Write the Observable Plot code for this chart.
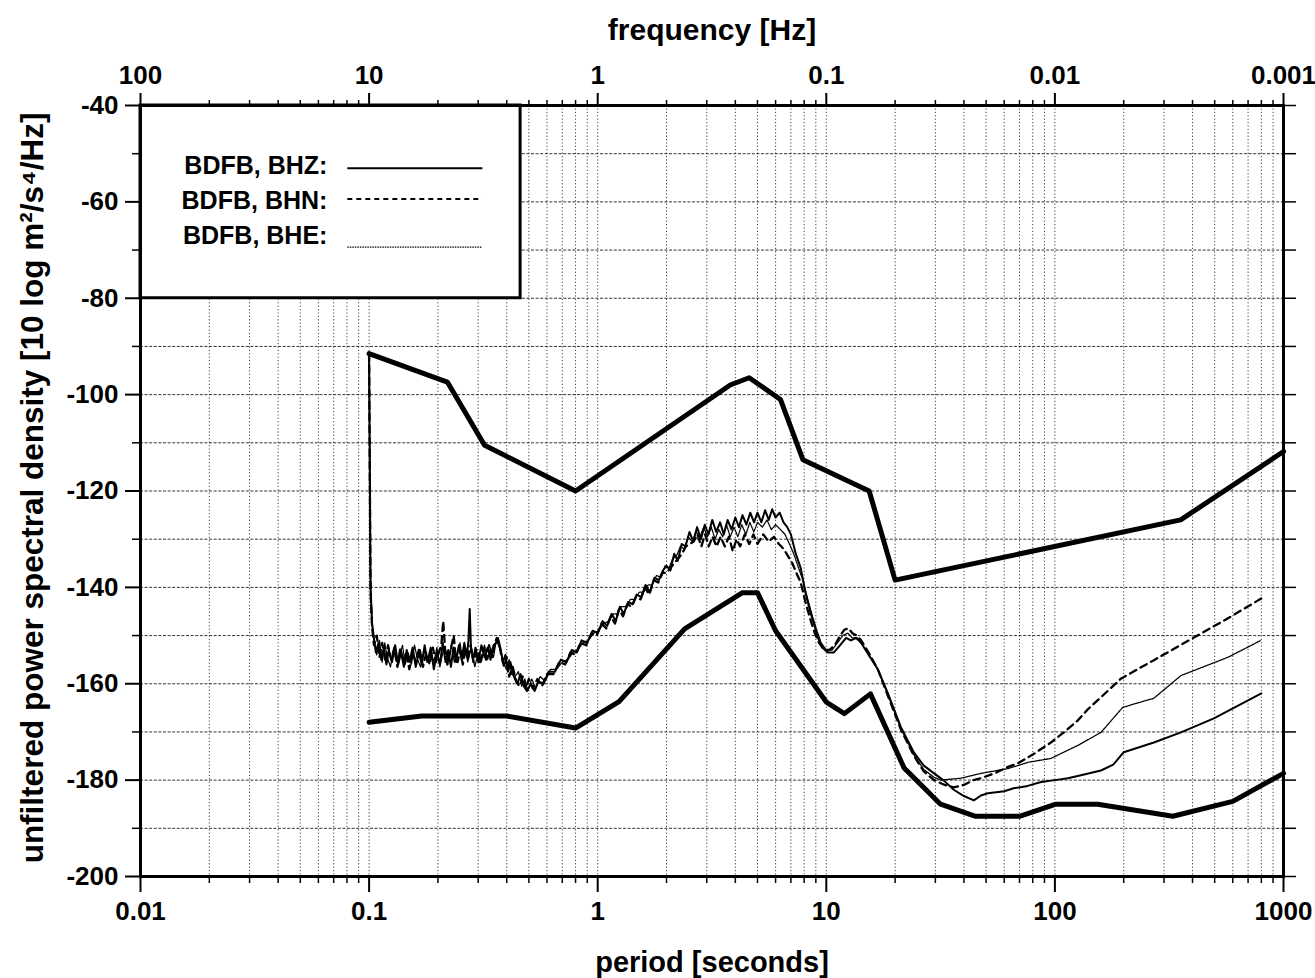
<!DOCTYPE html>
<html>
<head>
<meta charset="utf-8">
<script src="https://cdn.jsdelivr.net/npm/d3@7"></script>
<script src="https://cdn.jsdelivr.net/npm/@observablehq/plot@0.6"></script>
<style>
  html, body { margin: 0; padding: 0; background: #fff; }
  #chart svg { display: block; }
</style>
</head>
<body>
<div id="chart"></div>
<script>
// ---- axis ticks and labels ----
const periodTicks = [0.01, 0.1, 1, 10, 100, 1000];
const periodTickLabels = ["0.01", "0.1", "1", "10", "100", "1000"];
const frequencyTickLabels = ["100", "10", "1", "0.1", "0.01", "0.001"];
const psdTicks = [-200, -180, -160, -140, -120, -100, -80, -60, -40];
const psdTickLabels = ["-200", "-180", "-160", "-140", "-120", "-100", "-80", "-60", "-40"];
const psdMinorTicks = [-190, -170, -150, -130, -110, -90, -70, -50];

// ---- Peterson high / low noise models ----
const nhnmPeriod = [0.1, 0.22, 0.32, 0.8, 3.8, 4.6, 6.3, 7.9, 15.4, 20, 354.8, 1000];
const nhnmPsd = [-91.5, -97.4, -110.5, -120.0, -98.0, -96.5, -101.0, -113.5, -120.0, -138.5, -126.0, -111.8];

const nlnmPeriod = [0.1, 0.17, 0.4, 0.8, 1.24, 2.4, 4.3, 5.0, 6.0, 10.0, 12.0, 15.6, 21.9, 31.6, 45, 70, 101, 154, 328, 600, 1000];
const nlnmPsd = [-168.0, -166.7, -166.7, -169.2, -163.7, -148.6, -141.1, -141.1, -149.0, -163.8, -166.2, -162.1, -177.5, -185.0, -187.5, -187.5, -185.0, -185.0, -187.5, -184.4, -178.6];

// ---- BDFB, BHZ ----
const bhzPeriod = [0.1, 0.101, 0.1015, 0.103, 0.105, 0.107, 0.11, 0.113, 0.116, 0.119, 0.122, 0.126, 0.13, 0.134, 0.138, 0.142, 0.146, 0.15, 0.155, 0.16, 0.165, 0.17, 0.175, 0.18, 0.186, 0.192, 0.198, 0.204, 0.21, 0.216, 0.222, 0.228, 0.234, 0.24, 0.247, 0.254, 0.261, 0.268, 0.272, 0.2755, 0.279, 0.285, 0.292, 0.3, 0.31, 0.32, 0.33, 0.34, 0.35, 0.36, 0.366, 0.375, 0.385, 0.395, 0.405, 0.415, 0.43, 0.445, 0.46, 0.475, 0.49, 0.51, 0.53, 0.55, 0.58, 0.61, 0.65, 0.69, 0.73, 0.77, 0.81, 0.85, 0.9, 0.95, 1.0, 1.05, 1.1, 1.15, 1.2, 1.25, 1.3, 1.36, 1.42, 1.48, 1.55, 1.62, 1.69, 1.77, 1.85, 1.93, 2.0, 2.08, 2.16, 2.24, 2.33, 2.42, 2.52, 2.62, 2.72, 2.83, 2.94, 3.05, 3.17, 3.3, 3.43, 3.56, 3.7, 3.85, 4.0, 4.15, 4.3, 4.47, 4.65, 4.83, 5.0, 5.2, 5.4, 5.6, 5.8, 6.0, 6.25, 6.5, 6.75, 7.0, 7.35, 7.73, 8.1, 8.5, 8.82, 9.2, 9.6, 10.15, 10.8, 11.5, 12.2, 12.8, 13.5, 14.2, 15.3, 16.8, 18.6, 21.2, 24.2, 26.7, 29.6, 32.5, 36.1, 40, 44.2, 47.5, 51, 60, 66, 76, 87, 100, 114, 130, 159, 180, 200, 271, 356, 496, 800];
const bhzPsd = [-91.5, -125, -140, -147.5, -150.5, -153.5, -151.5, -155, -152.5, -156, -153, -155.5, -152, -156, -153.5, -156.5, -153, -155.5, -152.5, -156.5, -153.5, -156, -152, -155.5, -152.5, -157, -153.5, -156, -151.5, -155.5, -153, -156.5, -152.5, -155.5, -152, -155, -151.5, -154.5, -151, -144.5, -152.5, -155, -152.5, -155.5, -152, -154.5, -152.5, -155, -152, -151.5, -150.5, -152.5, -155.5, -154, -157.5, -155.5, -158.5, -160, -158, -160.5, -161.5, -160, -161.5, -159.5, -160, -157.5, -157.5, -155, -155.5, -153, -153.5, -151, -151.5, -149, -149.5, -147, -148, -145.5, -147, -144, -145.5, -143, -143.5, -141.5, -142, -139.5, -141, -138, -138.5, -136.5, -135.5, -136.5, -133, -134.5, -131, -131.5, -128.5, -130.5, -127.5, -130, -127, -129, -126, -128.5, -126.5, -129, -126, -128, -125.5, -127.5, -125, -127, -124.5, -126.5, -124.5, -126.5, -124, -126, -123.8, -125.5, -124.5, -126.5, -127.5, -129, -133, -136, -141, -145, -147.5, -150.5, -152.5, -153.5, -153.5, -152, -150.5, -151, -150.5, -151.5, -154, -157, -162, -169, -174.3, -177, -178.6, -180, -182, -183.3, -184.2, -183.2, -182.7, -182.3, -181.7, -181.2, -180.4, -180, -179.6, -179, -178, -176.8, -174.2, -172.2, -170.1, -167.2, -162];

// ---- BDFB, BHN ----
const bhnPeriod = [0.1, 0.101, 0.1015, 0.103, 0.105, 0.108, 0.111, 0.114, 0.118, 0.121, 0.125, 0.129, 0.133, 0.137, 0.141, 0.145, 0.15, 0.155, 0.16, 0.166, 0.172, 0.178, 0.184, 0.19, 0.196, 0.202, 0.207, 0.211, 0.215, 0.22, 0.226, 0.232, 0.2345, 0.238, 0.244, 0.25, 0.257, 0.264, 0.27, 0.278, 0.286, 0.295, 0.305, 0.315, 0.325, 0.335, 0.345, 0.355, 0.362, 0.37, 0.38, 0.39, 0.4, 0.41, 0.425, 0.44, 0.455, 0.47, 0.485, 0.5, 0.52, 0.545, 0.57, 0.6, 0.64, 0.68, 0.72, 0.76, 0.8, 0.84, 0.89, 0.94, 0.99, 1.04, 1.09, 1.14, 1.19, 1.24, 1.29, 1.35, 1.41, 1.47, 1.54, 1.61, 1.68, 1.76, 1.84, 1.92, 2.0, 2.08, 2.16, 2.25, 2.34, 2.43, 2.53, 2.63, 2.73, 2.84, 2.95, 3.06, 3.18, 3.31, 3.45, 3.6, 3.75, 3.9, 4.05, 4.2, 4.4, 4.6, 4.8, 5.0, 5.3, 5.6, 5.9, 6.2, 6.5, 6.8, 7.1, 7.4, 7.73, 8.1, 8.5, 8.9, 9.3, 9.8, 10.3, 10.9, 11.5, 12.0, 12.5, 13.0, 13.6, 14.2, 15.3, 16.8, 18.6, 21.2, 24.2, 26.7, 29.6, 33, 36.1, 40, 44, 47.5, 55, 62, 69, 80, 96, 110, 126, 140, 159, 195, 271, 406, 572, 820];
const bhnPsd = [-91.5, -126, -141, -148, -152, -150, -154.5, -151.5, -155.5, -152, -155, -152.5, -156.5, -152.5, -155.5, -153.5, -157, -153.5, -155.5, -152.5, -156.5, -153.5, -156, -152.5, -155.5, -153.5, -152, -147, -153, -156, -153.5, -151, -150, -153.5, -155.5, -153, -156, -152.5, -155, -152, -155.5, -153, -156, -152.5, -155, -152, -154.5, -151.5, -150.5, -151.5, -154.5, -156.5, -154.5, -158.5, -156.5, -159.5, -160.5, -158.5, -161, -159, -161, -159, -160.5, -158, -158, -155.5, -156, -153.5, -154, -151.5, -152, -149.5, -150, -147.5, -148.5, -146, -147.5, -144.5, -146, -143.5, -144, -142, -142.5, -140, -141.5, -138.5, -139, -137, -137, -136, -135, -134, -133, -131.5, -131, -130.5, -129, -131.5, -129, -131.5, -129.5, -131.5, -129.5, -131.5, -129.5, -132.5, -130, -131.5, -129, -131, -129, -131, -129, -130.5, -129.5, -131, -132, -133.5, -135, -137, -139, -143, -146.5, -149.5, -151.5, -153, -153, -152, -150, -148.8, -148.5, -149.5, -150, -151, -153.5, -157, -162.5, -169.5, -175, -178.2, -180, -181, -181.5, -181, -180, -179.6, -178.5, -177.3, -176.5, -174.7, -172.2, -170, -167.6, -165.2, -162.8, -158.9, -155.1, -150.4, -146.4, -142];

// ---- BDFB, BHE ----
const bhePeriod = [0.1, 0.101, 0.1015, 0.103, 0.105, 0.108, 0.111, 0.114, 0.117, 0.12, 0.124, 0.128, 0.132, 0.136, 0.14, 0.144, 0.148, 0.153, 0.158, 0.163, 0.168, 0.174, 0.18, 0.186, 0.192, 0.198, 0.204, 0.21, 0.216, 0.222, 0.229, 0.236, 0.243, 0.25, 0.256, 0.263, 0.27, 0.28, 0.29, 0.3, 0.31, 0.32, 0.33, 0.34, 0.35, 0.36, 0.368, 0.378, 0.388, 0.398, 0.41, 0.42, 0.435, 0.45, 0.465, 0.48, 0.495, 0.515, 0.535, 0.56, 0.59, 0.62, 0.66, 0.7, 0.74, 0.78, 0.82, 0.86, 0.91, 0.96, 1.01, 1.06, 1.12, 1.17, 1.22, 1.27, 1.33, 1.39, 1.45, 1.52, 1.59, 1.66, 1.73, 1.81, 1.89, 1.97, 2.05, 2.13, 2.21, 2.3, 2.39, 2.49, 2.59, 2.69, 2.8, 2.91, 3.02, 3.14, 3.26, 3.39, 3.52, 3.66, 3.8, 3.95, 4.1, 4.27, 4.45, 4.63, 4.82, 5.0, 5.25, 5.5, 5.75, 6.0, 6.3, 6.6, 6.9, 7.2, 7.5, 7.9, 8.3, 8.7, 9.1, 9.5, 10, 10.6, 11.2, 11.8, 12.4, 13.0, 13.7, 14.4, 15.3, 16.8, 18.6, 21.2, 24.2, 26.7, 29.6, 31.7, 38.8, 47.5, 62.3, 76.2, 96, 126, 159, 198, 271, 356, 572, 797];
const bhePsd = [-91.5, -125.5, -140.5, -147, -151, -154, -151, -155.5, -151.5, -154.5, -156.5, -153, -155.5, -154, -152, -156, -153.5, -156, -152, -155, -156.5, -153, -155.5, -153.5, -155.5, -152.5, -156.5, -153.5, -153, -155.5, -152, -155.5, -153.5, -151.5, -155, -152.5, -155.5, -152.5, -156.5, -153.5, -155.5, -152, -155, -152.5, -154.5, -151, -152, -153.5, -155.5, -157, -155, -158, -158.5, -157.5, -160.5, -159, -161.5, -159, -161, -158.5, -159.5, -157, -157, -155.5, -155, -153.5, -153, -151.5, -151, -149.5, -149, -147.5, -147, -145.5, -145.5, -144, -144, -142.5, -142.5, -141, -141, -139.5, -139.5, -137.5, -138, -135.5, -136, -134, -133.5, -131.5, -132, -129.5, -130.5, -128.5, -129.5, -127.5, -129.5, -127.5, -130, -128, -129.5, -127, -129.5, -127.5, -129.5, -127, -129, -126.5, -128.5, -126.5, -127.5, -126, -128, -127, -128, -129, -131, -133, -135.5, -138.5, -142.5, -146, -149, -151.5, -153, -153, -151.5, -150, -149.5, -150.5, -150.5, -152, -153.8, -157, -162.3, -169.3, -174.8, -177.8, -179.4, -180, -179.6, -178.6, -177.6, -176.3, -175.5, -172.8, -170.1, -164.9, -163, -158.3, -154.5, -151];

// ---- legend entries ----
const legendLabels = ["BDFB, BHZ:", "BDFB, BHN:", "BDFB, BHE:"];

// ---- build tables ----
const toRows = (periods, psd) => periods.map((p, i) => ({period: p, psd: psd[i]}));
const nhnm = toRows(nhnmPeriod, nhnmPsd);
const nlnm = toRows(nlnmPeriod, nlnmPsd);
const bhz = toRows(bhzPeriod, bhzPsd);
const bhn = toRows(bhnPeriod, bhnPsd);
const bhe = toRows(bhePeriod, bhePsd);

// minor log ticks (2..9 within each decade) for grid and tick marks
const minorPeriods = [];
for (let e = -2; e < 3; e++) for (let m = 2; m <= 9; m++) minorPeriods.push(+(m * Math.pow(10, e)).toPrecision(3));
const allPeriodGrid = periodTicks.concat(minorPeriods);
const allPsdGrid = psdTicks.concat(psdMinorTicks);

const periodLabel = new Map(periodTicks.map((t, i) => [t, periodTickLabels[i]]));
const frequencyLabel = new Map(periodTicks.map((t, i) => [t, frequencyTickLabels[i]]));
const psdLabel = new Map(psdTicks.map((t, i) => [t, psdTickLabels[i]]));

// legend placement in data space
const legendBox = {x1: 0.01, x2: 0.46, y1: -80, y2: -40};
const legendTextX = 0.0657;
const legendLineX1 = 0.0803, legendLineX2 = 0.313;
const legendTextY = [-52.6, -59.8, -67.1];
const legendLineY = [-53.0, -59.4, -69.4];
const legendRows = legendLabels.map((label, i) => ({label, ty: legendTextY[i], ly: legendLineY[i]}));

const font = "'Liberation Sans', Arial, sans-serif";

const chart = Plot.plot({
  width: 1315,
  height: 978,
  marginTop: 105,
  marginBottom: 102,
  marginLeft: 140,
  marginRight: 32,
  style: {fontFamily: font, fontWeight: "bold", fontSize: "25px", background: "#fff", color: "#000"},
  x: {type: "log", domain: [0.01, 1000]},
  y: {domain: [-200, -40]},
  marks: [
    // dotted grid
    Plot.gridX(allPeriodGrid, {stroke: "#111", strokeWidth: 1, strokeOpacity: 0.8, strokeDasharray: "1.2,2.2"}),
    Plot.gridY(allPsdGrid, {stroke: "#111", strokeWidth: 1, strokeOpacity: 0.85, strokeDasharray: "3,1.6"}),

    // legend panel
    Plot.rect([legendBox], {x1: "x1", x2: "x2", y1: "y1", y2: "y2", fill: "#fff", stroke: "#000", strokeWidth: 3}),
    Plot.text(legendRows, {x: legendTextX, y: "ty", text: "label", textAnchor: "end", fontSize: 25, fontWeight: "bold"}),
    Plot.link([legendRows[0]], {x1: legendLineX1, x2: legendLineX2, y1: "ly", y2: "ly", stroke: "#000", strokeWidth: 2}),
    Plot.link([legendRows[1]], {x1: legendLineX1, x2: legendLineX2, y1: "ly", y2: "ly", stroke: "#000", strokeWidth: 2, strokeDasharray: "5,4"}),
    Plot.link([legendRows[2]], {x1: legendLineX1, x2: legendLineX2, y1: "ly", y2: "ly", stroke: "#000", strokeWidth: 1.2, strokeDasharray: "1.5,1"}),

    // noise models
    Plot.line(nhnm, {x: "period", y: "psd", stroke: "#000", strokeWidth: 5, strokeLinejoin: "round"}),
    Plot.line(nlnm, {x: "period", y: "psd", stroke: "#000", strokeWidth: 5, strokeLinejoin: "round"}),

    // station spectra
    Plot.line(bhe, {x: "period", y: "psd", stroke: "#000", strokeWidth: 1.3, strokeDasharray: "1.5,1", strokeLinejoin: "round"}),
    Plot.line(bhn, {x: "period", y: "psd", stroke: "#000", strokeWidth: 2.3, strokeDasharray: "7,5", strokeLinejoin: "round"}),
    Plot.line(bhz, {x: "period", y: "psd", stroke: "#000", strokeWidth: 2, strokeLinejoin: "round"}),

    Plot.frame({stroke: "#000", strokeWidth: 3}),

    // period axis (bottom)
    Plot.axisX({anchor: "bottom", ticks: periodTicks, tickFormat: d => periodLabel.get(d), tickSize: 16, tickPadding: 9, strokeWidth: 2, fontSize: 26, fontWeight: "bold", label: null}),
    Plot.axisX({anchor: "bottom", ticks: minorPeriods, tickFormat: () => "", tickSize: 7, strokeWidth: 1.5, label: null}),
    // frequency axis (top)
    Plot.axisX({anchor: "top", ticks: periodTicks, tickFormat: d => frequencyLabel.get(d), tickSize: 13, tickPadding: 9, strokeWidth: 2, fontSize: 26, fontWeight: "bold", label: null}),
    Plot.axisX({anchor: "top", ticks: minorPeriods, tickFormat: () => "", tickSize: 6, strokeWidth: 1.5, label: null}),
    // PSD axes
    Plot.axisY({anchor: "left", ticks: psdTicks, tickFormat: d => psdLabel.get(d), tickSize: 15, tickPadding: 7, strokeWidth: 2, fontSize: 26, fontWeight: "bold", label: null}),
    Plot.axisY({anchor: "left", ticks: psdMinorTicks, tickFormat: () => "", tickSize: 8, strokeWidth: 1.5, label: null}),
    Plot.axisY({anchor: "right", ticks: allPsdGrid, tickFormat: () => "", tickSize: 12, strokeWidth: 1.5, label: null}),

    // axis titles
    Plot.text(["frequency [Hz]"], {frameAnchor: "top", dy: -75, lineAnchor: "middle", fontSize: 30, fontWeight: "bold"}),
    Plot.text(["period [seconds]"], {frameAnchor: "bottom", dy: 86, lineAnchor: "middle", fontSize: 29, fontWeight: "bold"}),
    Plot.text(["unfiltered power spectral density [10 log m²/s⁴/Hz]"], {frameAnchor: "left", dx: -108, dy: -3, rotate: -90, textAnchor: "middle", lineAnchor: "middle", fontSize: 31.5, fontWeight: "bold"})
  ]
});

document.getElementById("chart").appendChild(chart);
</script>
</body>
</html>
